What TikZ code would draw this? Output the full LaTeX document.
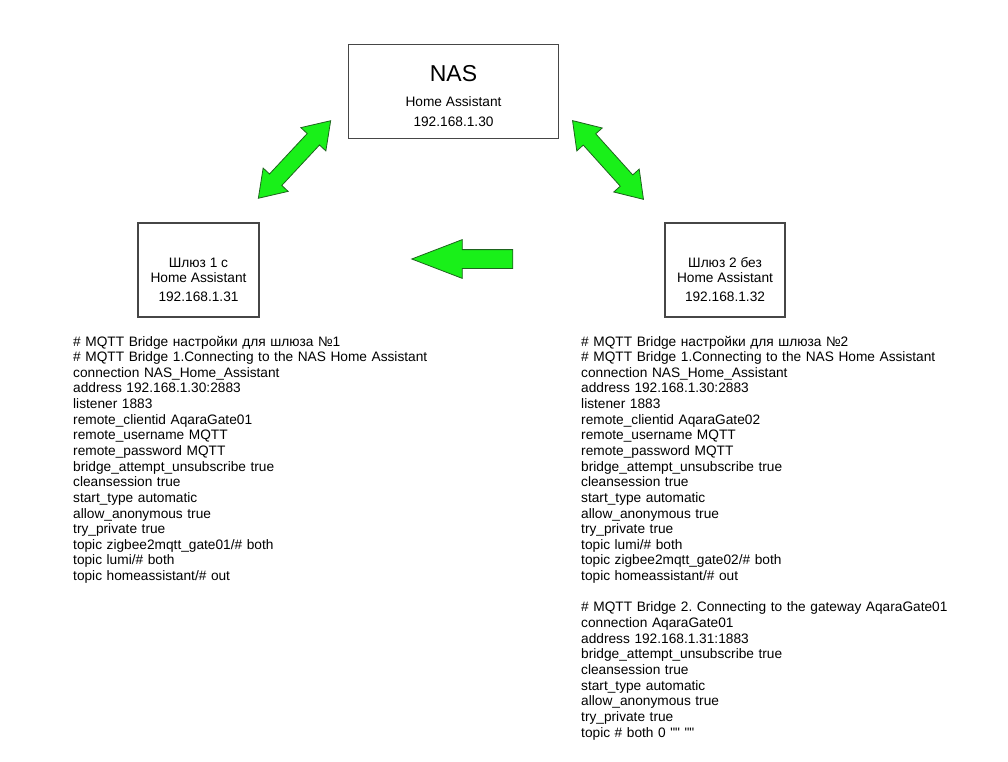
\documentclass[tikz,border=0pt]{standalone}
\usepackage{fontspec}
\newfontfamily\gwfont{Liberation Sans}
\usetikzlibrary{shapes.arrows}
\definecolor{arrowgreen}{RGB}{25,240,25}
\definecolor{arrowedge}{RGB}{30,100,30}
\definecolor{boxgray}{RGB}{70,70,70}

\begin{document}
\begin{tikzpicture}
[every node/.style={inner sep=0pt, font=\gwfont\fontsize{13.7pt}{15.64pt}\selectfont\frenchspacing},
 box/.style={rectangle, draw=boxgray, line width=1.3pt},
 fatarrow/.style={fill=arrowgreen, draw=arrowedge, line width=0.8pt, inner xsep=0pt},
 cfg/.style={anchor=base west, align=left, text width=400pt}]
\useasboundingbox (0pt,0pt) rectangle (1008pt,-762pt);
% devices
\node (nas) [box, minimum width=210pt, minimum height=94pt] at (453.5pt, -91.5pt) {};
\node (gw1) [box, minimum width=121pt, minimum height=94pt] at (198.5pt, -270pt) {};
\node (gw2) [box, minimum width=120pt, minimum height=94pt] at (725pt, -270pt) {};
\node (nas1) [font=\gwfont\fontsize{23pt}{26pt}\selectfont] at (453.5pt, -73.5pt) {NAS};
\node (nas2) at (453.5pt, -102pt) {Home Assistant};
\node (nas3) at (453.5pt, -122pt) {192.168.1.30};
\node (gw1a) at (198.5pt, -263pt) {Шлюз 1 с};
\node (gw1b) at (198.5pt, -278pt) {Home Assistant};
\node (gw1c) at (198.5pt, -297pt) {192.168.1.31};
\node (gw2a) at (725pt, -263pt) {Шлюз 2 без};
\node (gw2b) at (725pt, -278pt) {Home Assistant};
\node (gw2c) at (725pt, -297pt) {192.168.1.32};
% links
\node (nasgw1) [double arrow, fatarrow, inner ysep=8pt, minimum height=106pt, double arrow head extend=8.7pt, double arrow tip angle=68, rotate=47] at (294.5pt, -159.5pt) {};
\node (nasgw2) [double arrow, fatarrow, inner ysep=8pt, minimum height=106pt, double arrow head extend=8.7pt, double arrow tip angle=68, rotate=-48] at (608pt, -160pt) {};
\node (gw2gw1) [single arrow, fatarrow, inner ysep=9pt, minimum height=101pt, single arrow head extend=10pt, single arrow tip angle=42, rotate=180] at (474.5pt, -259pt) {};
% bridge settings
\node (cfg1) [cfg] at (73pt, -346pt) {\# MQTT Bridge настройки для шлюза №1\\
\# MQTT Bridge 1.Connecting to the NAS Home Assistant\\
connection NAS\_Home\_Assistant\\
address 192.168.1.30:2883\\
listener 1883\\
remote\_clientid AqaraGate01\\
remote\_username MQTT\\
remote\_password MQTT\\
bridge\_attempt\_unsubscribe true\\
cleansession true\\
start\_type automatic\\
allow\_anonymous true\\
try\_private true\\
topic zigbee2mqtt\_gate01/\# both\\
topic lumi/\# both\\
topic homeassistant/\# out};
\node (cfg2) [cfg] at (581pt, -346pt) {\# MQTT Bridge настройки для шлюза №2\\
\# MQTT Bridge 1.Connecting to the NAS Home Assistant\\
connection NAS\_Home\_Assistant\\
address 192.168.1.30:2883\\
listener 1883\\
remote\_clientid AqaraGate02\\
remote\_username MQTT\\
remote\_password MQTT\\
bridge\_attempt\_unsubscribe true\\
cleansession true\\
start\_type automatic\\
allow\_anonymous true\\
try\_private true\\
topic lumi/\# both\\
topic zigbee2mqtt\_gate02/\# both\\
topic homeassistant/\# out\\[15.64pt]
\# MQTT Bridge 2. Connecting to the gateway AqaraGate01\\
connection AqaraGate01\\
address 192.168.1.31:1883\\
bridge\_attempt\_unsubscribe true\\
cleansession true\\
start\_type automatic\\
allow\_anonymous true\\
try\_private true\\
topic \# both 0 "" ""};
\end{tikzpicture}
\end{document}
